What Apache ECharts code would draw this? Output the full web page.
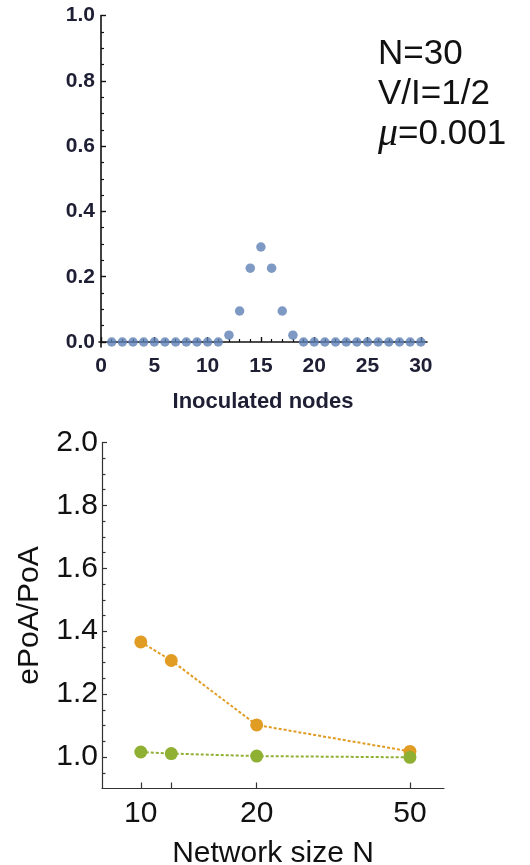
<!DOCTYPE html>
<html>
<head>
<meta charset="utf-8">
<script src="https://cdn.jsdelivr.net/npm/echarts@6/dist/echarts.min.js"></script>
<style>
html,body{margin:0;padding:0;background:#fff;}
#c{width:530px;height:865px;}
</style>
</head>
<body>
<div id="c"></div>
<script>
// ---- Top panel data ----
const nodes = [1,2,3,4,5,6,7,8,9,10,11,12,13,14,15,16,17,18,19,20,21,22,23,24,25,26,27,28,29,30];
const probs = [0,0,0,0,0,0,0,0,0,0,0,0.021,0.095,0.226,0.291,0.226,0.095,0.021,0,0,0,0,0,0,0,0,0,0,0,0];
const topXTicks = [0,5,10,15,20,25,30];
const topYTicks = [0,0.2,0.4,0.6,0.8,1.0];
const annotation = ['N=30','V/I=1/2','μ=0.001'];

// ---- Bottom panel data ----
const networkSize = [10,12,20,50];
const ratioOrange = [1.366,1.307,1.102,1.018];
const ratioGreen = [1.016,1.011,1.003,0.999];
const bottomXTicks = [10,12,20,50];
const bottomXLabels = [10,20,50];
const bottomYTicks = [1.0,1.2,1.4,1.6,1.8,2.0];

const FONT = '"Liberation Sans", Arial, sans-serif';
const topMinorX = []; for (let i = 1; i < 30; i++) if (i % 5) topMinorX.push(i);
const topMinorY = []; for (let i = 1; i < 20; i++) if (i % 4) topMinorY.push(+(i*0.05).toFixed(2));
const botMinorY = []; for (let i = 19; i < 40; i++) if (i % 4) botMinorY.push(+(i*0.05).toFixed(2));

const chart = echarts.init(document.getElementById('c'), null, {renderer:'canvas'});
const topColor = '#1e1e34';
const hidden = {axisLine:{show:false}, axisLabel:{show:false}, splitLine:{show:false}};

chart.setOption({
  animation:false,
  backgroundColor:'#fff',
  grid:[
    {left:99, top:15.5, width:328, height:331.5, outerBoundsMode:'none', containLabel:false},
    {left:102, top:442.5, width:342, height:346, outerBoundsMode:'none', containLabel:false}
  ],
  xAxis:[
    {gridIndex:0, type:'value', position:'bottom', min:-0.19, max:30.58,
     axisLine:{lineStyle:{color:'#111', width:1.6}},
     axisTick:{inside:true, length:5, customValues:topXTicks, lineStyle:{color:'#111', width:1.4}},
     axisLabel:{customValues:topXTicks, fontSize:21, fontWeight:'bold', color:topColor, fontFamily:FONT, margin:9},
     splitLine:{show:false},
     name:'Inoculated nodes', nameLocation:'middle', nameGap:44,
     nameTextStyle:{fontSize:22, fontWeight:'bold', color:topColor, fontFamily:FONT}},
    Object.assign({gridIndex:0, type:'value', position:'bottom', offset:0, min:-0.19, max:30.58,
     axisTick:{inside:true, length:3, customValues:topMinorX, lineStyle:{color:'#111', width:1.2}}}, hidden),
    {gridIndex:1, type:'log', position:'bottom', logBase:10, min:7.93, max:61.3,
     axisLine:{lineStyle:{color:'#333', width:1.2}},
     axisTick:{inside:true, length:6, customValues:bottomXTicks, lineStyle:{color:'#333', width:1.2}},
     axisLabel:{customValues:bottomXLabels, fontSize:30, color:'#111', fontFamily:FONT, margin:10},
     splitLine:{show:false}, minorTick:{show:false},
     name:'Network size N', nameLocation:'middle', nameGap:50,
     nameTextStyle:{fontSize:30, color:'#111', fontFamily:FONT}}
  ],
  yAxis:[
    {gridIndex:0, type:'value', position:'left', min:-0.0153, max:1.0,
     axisLine:{lineStyle:{color:'#111', width:1.6}},
     axisTick:{inside:true, length:5, customValues:topYTicks, lineStyle:{color:'#111', width:1.4}},
     axisLabel:{customValues:topYTicks, fontSize:21, fontWeight:'bold', color:topColor, fontFamily:FONT, margin:4,
       formatter:v => v.toFixed(1)},
     splitLine:{show:false}},
    Object.assign({gridIndex:0, type:'value', position:'left', offset:0, min:-0.0153, max:1.0,
     axisTick:{inside:true, length:3, customValues:topMinorY, lineStyle:{color:'#111', width:1.2}}}, hidden),
    {gridIndex:1, type:'value', position:'left', min:0.9, max:2.0,
     axisLine:{lineStyle:{color:'#333', width:1.2}},
     axisTick:{inside:true, length:5, customValues:bottomYTicks, lineStyle:{color:'#333', width:1.2}},
     axisLabel:{customValues:bottomYTicks, fontSize:30, color:'#111', fontFamily:FONT, margin:4,
       formatter:v => v.toFixed(1)},
     splitLine:{show:false},
     name:'ePoA/PoA', nameLocation:'middle', nameGap:57, nameRotate:90,
     nameTextStyle:{fontSize:30, color:'#111', fontFamily:FONT}},
    Object.assign({gridIndex:1, type:'value', position:'left', offset:0, min:0.9, max:2.0,
     axisTick:{inside:true, length:3.5, customValues:botMinorY, lineStyle:{color:'#333', width:1.2}}}, hidden)
  ],
  series:[
    {type:'scatter', xAxisIndex:0, yAxisIndex:0, symbolSize:9.5,
     itemStyle:{color:'#5E81B5'},
     data:nodes.map((n,i)=>[n, probs[i]])},
    {type:'line', xAxisIndex:2, yAxisIndex:2, symbol:'circle', symbolSize:13,
     itemStyle:{color:'#E19C24'}, lineStyle:{color:'#E19C24', width:2, type:[3,2]},
     data:networkSize.map((n,i)=>[n, ratioOrange[i]])},
    {type:'line', xAxisIndex:2, yAxisIndex:2, symbol:'circle', symbolSize:13,
     itemStyle:{color:'#8FB032'}, lineStyle:{color:'#8FB032', width:2, type:[3,2]},
     data:networkSize.map((n,i)=>[n, ratioGreen[i]])}
  ],
  graphic:[
    {type:'text', left:378, top:34,
     style:{
       text:annotation[0] + '\n' + annotation[1] + '\n{i|' + annotation[2].charAt(0) + '}' + annotation[2].slice(1),
       font:'35px ' + FONT, fill:'#111', lineHeight:40,
       rich:{i:{fontFamily:'"Liberation Serif", "DejaVu Serif", serif', fontStyle:'italic', fontSize:40, lineHeight:40, fill:'#111'}}
     }}
  ]
});
</script>
</body>
</html>
